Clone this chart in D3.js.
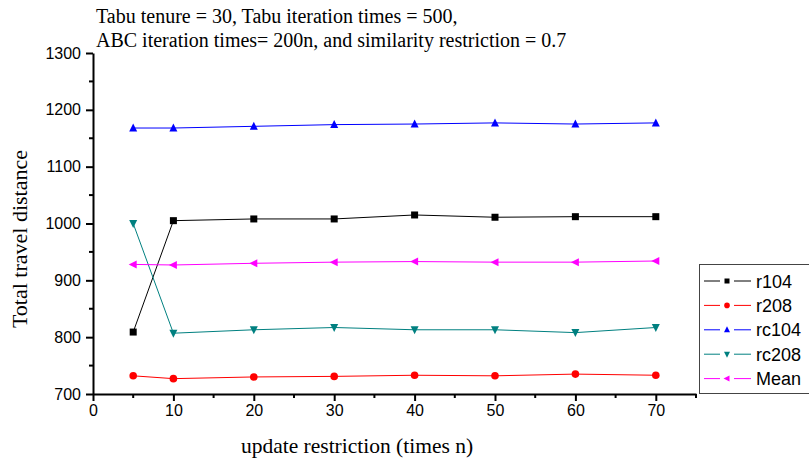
<!DOCTYPE html>
<html><head><meta charset="utf-8">
<script src="https://cdn.jsdelivr.net/npm/d3@7"></script>
<style>body{margin:0;background:#fff;} svg{display:block;}</style>
</head><body>
<svg id="chart" width="809" height="464"></svg>
<script>
const xValues = [5, 10, 20, 30, 40, 50, 60, 70];
const seriesNames = ["r104", "r208", "rc104", "rc208", "Mean"];
const r104 = [809, 1005, 1008, 1008, 1015, 1011, 1012, 1012];
const r208 = [732, 727, 730, 731, 733, 732, 735, 733];
const rc104 = [1168, 1168, 1171, 1174, 1175, 1177, 1175, 1177];
const rc208 = [1000, 807, 813, 817, 813, 813, 808, 817];
const mean = [928, 927, 930, 932, 933, 932, 932, 934];
const xTicks = [0, 10, 20, 30, 40, 50, 60, 70];
const yTicks = [700, 800, 900, 1000, 1100, 1200, 1300];
const annotation = ["Tabu tenure = 30, Tabu iteration times = 500,",
  "ABC iteration times= 200n, and similarity restriction = 0.7"];
const xTitle = "update restriction (times n)";
const yTitle = "Total travel distance";

const colors = ["#000000", "#ff0000", "#0000ff", "#008080", "#ff00ff"];
const symbols = ["square", "circle", "up", "down", "left"];
const data = [r104, r208, rc104, rc208, mean];

const svg = d3.select("#chart");
const x = d3.scaleLinear().domain([0, 75]).range([93, 696]);
const y = d3.scaleLinear().domain([700, 1300]).range([394, 53]);
const fmt = d3.format("d");

// axes
const xAxis = d3.axisBottom(x).tickValues(xTicks).tickFormat(fmt).tickSize(7).tickSizeOuter(0).tickPadding(4);
const gx = svg.append("g").attr("transform", `translate(0,${y(700)})`).call(xAxis);
gx.select(".domain").attr("stroke-width", 2);
gx.selectAll(".tick line").attr("stroke-width", 2);
gx.selectAll("text").attr("font-family", "Liberation Sans, Arial, sans-serif").attr("font-size", 16).attr("fill", "#000");
// minor x ticks
svg.append("g").selectAll("line").data(d3.range(5, 80, 10)).join("line")
  .attr("x1", d => x(d)).attr("x2", d => x(d))
  .attr("y1", y(700)).attr("y2", y(700) + 4)
  .attr("stroke", "#000").attr("stroke-width", 2);

const yAxis = d3.axisLeft(y).tickValues(yTicks).tickFormat(fmt).tickSize(7).tickSizeOuter(0).tickPadding(5);
const gy = svg.append("g").attr("transform", `translate(${x(0)},0)`).call(yAxis);
gy.select(".domain").attr("stroke-width", 2);
gy.selectAll(".tick line").attr("stroke-width", 2);
gy.selectAll("text").attr("font-family", "Liberation Sans, Arial, sans-serif").attr("font-size", 16).attr("fill", "#000");
svg.append("g").selectAll("line").data(d3.range(750, 1300, 100)).join("line")
  .attr("x1", x(0)).attr("x2", x(0) - 4)
  .attr("y1", d => y(d)).attr("y2", d => y(d))
  .attr("stroke", "#000").attr("stroke-width", 2);

// titles
svg.append("text").attr("x", 357).attr("y", 453).attr("text-anchor", "middle")
  .attr("font-family", "Liberation Serif, Times New Roman, serif").attr("font-size", 21.5).text(xTitle);
svg.append("text").attr("transform", "translate(27,239) rotate(-90)").attr("text-anchor", "middle")
  .attr("font-family", "Liberation Serif, Times New Roman, serif").attr("font-size", 22).text(yTitle);

annotation.forEach((t, i) => {
  svg.append("text").attr("x", 96).attr("y", 23 + i * 24)
    .attr("font-family", "Liberation Serif, Times New Roman, serif").attr("font-size", 20).text(t);
});

function marker(sel, sym, color, size) {
  const s = size;
  if (sym === "square") {
    sel.append("rect").attr("x", -s / 2).attr("y", -s / 2).attr("width", s).attr("height", s).attr("fill", color);
  } else if (sym === "circle") {
    sel.append("circle").attr("r", s / 2 + 0.3).attr("fill", color);
  } else {
    const h = s * 0.5;
    let pts;
    if (sym === "up") pts = [[0, -h - 1], [h + 0.5, h], [-h - 0.5, h]];
    else if (sym === "down") pts = [[0, h + 1], [h + 0.5, -h], [-h - 0.5, -h]];
    else pts = [[-h - 1, 0], [h, -h - 0.5], [h, h + 0.5]];
    sel.append("polygon").attr("points", pts.map(p => p.join(",")).join(" ")).attr("fill", color);
  }
}

const line = d3.line().x((d, i) => x(xValues[i])).y(d => y(d));
data.forEach((vals, k) => {
  svg.append("path").datum(vals).attr("d", line).attr("fill", "none")
    .attr("stroke", colors[k]).attr("stroke-width", 1);
});
data.forEach((vals, k) => {
  vals.forEach((v, i) => {
    const g = svg.append("g").attr("transform", `translate(${x(xValues[i])},${y(v)})`);
    marker(g, symbols[k], colors[k], 7);
  });
});

// legend
const lg = svg.append("g");
lg.append("rect").attr("x", 699.5).attr("y", 264.5).attr("width", 120).attr("height", 129)
  .attr("fill", "#fff").attr("stroke", "#444").attr("stroke-width", 1);
seriesNames.forEach((name, k) => {
  const cy = 281 + k * 24.4;
  lg.append("line").attr("x1", 704).attr("x2", 751).attr("y1", cy).attr("y2", cy)
    .attr("stroke", colors[k]).attr("stroke-width", 1);
  lg.append("rect").attr("x", 720).attr("y", cy - 4).attr("width", 14).attr("height", 8).attr("fill", "#fff");
  const g = lg.append("g").attr("transform", `translate(727,${cy})`);
  marker(g, symbols[k], colors[k], 5);
  lg.append("text").attr("x", 756).attr("y", cy + 6.5)
    .attr("font-family", "Liberation Sans, Arial, sans-serif").attr("font-size", 18).text(name);
});
</script>
</body></html>
